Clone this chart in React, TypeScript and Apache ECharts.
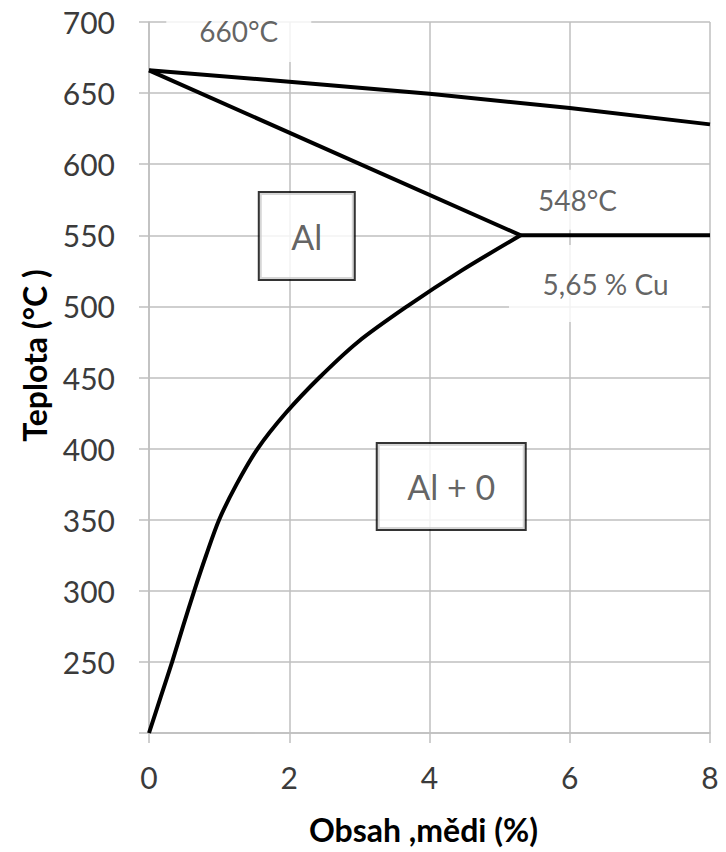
import React, { useEffect, useRef } from "react";
import * as echarts from "echarts";

// Liquidus (upper line)
const liquidusX = [0, 2, 4, 6, 8];
const liquidusY = [666, 658, 649.5, 639.5, 628];
// Solidus (from melting point to eutectic point)
const solidusX = [0, 5.3];
const solidusY = [666, 550];
// Eutectic horizontal
const eutecticX = [5.3, 8];
const eutecticY = [550, 550];
// Solvus curve
const solvusX = [0, 0.165, 0.33, 0.485, 0.645, 0.815, 1.0, 1.25, 1.55, 1.95, 2.43, 2.98, 3.68, 4.45, 5.3];
const solvusY = [200, 225, 250, 275, 300, 325, 350, 375, 400, 425, 450, 475, 500, 525, 550];

const xTicks = [0, 2, 4, 6, 8];
const yTicks = [200, 250, 300, 350, 400, 450, 500, 550, 600, 650, 700];

// Annotations
const annoText = ["660°C", "548°C", "5,65 % Cu", "Al", "Al + 0"];
const annoX = [1.28, 6.11, 6.51, 2.25, 4.31];
const annoY = [693.7, 575, 516.1, 549.5, 373.4];

const FONT = "Lato, 'Open Sans', sans-serif";
const GRID = "#bfbfbf";
const TXT = "#3b3b3b";

const annoStyle: any[] = [
  { width: 145, height: 62, lineHeight: 62, borderWidth: 0 },
  { width: 100, height: 60, lineHeight: 60, borderWidth: 0 },
  { width: 193, height: 45, lineHeight: 45, padding: [24, 0, 8, 0], borderWidth: 0 },
  { width: 94, height: 86, lineHeight: 86, borderWidth: 2, borderColor: "#000" },
  { width: 147, height: 85, lineHeight: 85, borderWidth: 2, borderColor: "#000" },
];
const annoFont = [28, 28, 28, 34, 34];

const zip = (xs: number[], ys: number[]) => xs.map((x, i) => [x, ys[i]]);

export default function App() {
  const ref = useRef<HTMLDivElement>(null);
  useEffect(() => {
    if (!ref.current) return;
    const chart = echarts.init(ref.current, null, { renderer: "svg" });
    const lineBase = {
      type: "line",
      showSymbol: false,
      symbol: "none",
      lineStyle: { color: "#000", width: 4 },
      z: 3,
      silent: true,
    };
    chart.setOption({
      animation: false,
      backgroundColor: "#fff",
      grid: { left: 149, right: 16, top: 22, bottom: 119, containLabel: false },
      xAxis: {
        type: "value",
        min: xTicks[0],
        max: xTicks[xTicks.length - 1],
        interval: 2,
        name: "Obsah ,mědi (%)",
        nameLocation: "middle",
        nameGap: 80,
        nameTextStyle: {
          fontFamily: FONT,
          fontSize: 32,
          fontWeight: "bold",
          color: "#000",
          padding: [0, 12, 0, 0],
        },
        axisLine: { show: true, lineStyle: { color: GRID, width: 1.5 } },
        axisTick: { show: true, length: 10, lineStyle: { color: GRID, width: 1.5 } },
        splitLine: { show: true, lineStyle: { color: GRID, width: 1.5 } },
        axisLabel: { fontFamily: FONT, fontSize: 30, color: TXT, margin: 29 },
      },
      yAxis: {
        type: "value",
        min: yTicks[0],
        max: yTicks[yTicks.length - 1],
        interval: 50,
        name: "Teplota (°C )",
        nameLocation: "middle",
        nameGap: 99,
        nameRotate: 90,
        nameTextStyle: {
          fontFamily: FONT,
          fontSize: 32,
          fontWeight: "bold",
          color: "#000",
          padding: [0, 0, 0, 44],
        },
        axisLine: { show: true, lineStyle: { color: GRID, width: 1.5 } },
        axisTick: { show: true, length: 10, lineStyle: { color: GRID, width: 1.5 } },
        splitLine: { show: true, lineStyle: { color: GRID, width: 1.5 } },
        axisLabel: {
          fontFamily: FONT,
          fontSize: 30,
          color: TXT,
          margin: 34,
          formatter: (v: number) => (v === yTicks[0] ? "" : String(v)),
        },
      },
      series: [
        { ...lineBase, name: "liquidus", data: zip(liquidusX, liquidusY) },
        { ...lineBase, name: "solidus", data: zip(solidusX, solidusY) },
        { ...lineBase, name: "eutectic", data: zip(eutecticX, eutecticY) },
        {
          ...lineBase,
          name: "solvus",
          smooth: 0.3,
          data: zip(solvusX, solvusY),
        },
        {
          type: "scatter",
          name: "annotations",
          symbolSize: 0,
          z: 1,
          silent: true,
          data: annoText.map((t, i) => ({
            value: [annoX[i], annoY[i]],
            name: t,
            label: {
              show: true,
              position: "inside",
              formatter: t,
              fontFamily: FONT,
              fontSize: annoFont[i],
              color: TXT,
              backgroundColor: "#fff",
              align: "center",
              verticalAlign: "middle",
              ...annoStyle[i],
            },
          })),
        },
      ],
    });
    return () => chart.dispose();
  }, []);
  return (
    <div
      ref={ref}
      style={{ position: "absolute", left: 0, top: 0, width: 726, height: 852 }}
    />
  );
}
